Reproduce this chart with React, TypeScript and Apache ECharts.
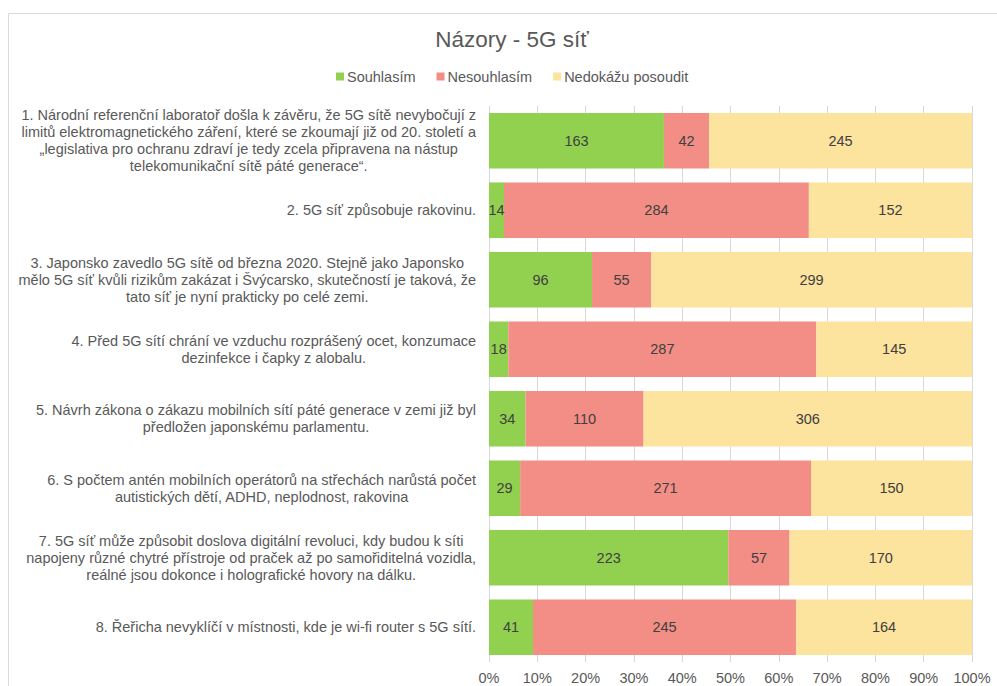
import React, { useEffect, useRef } from "react";
import * as echarts from "echarts";

const categories: string[] = [
  "1. Národní referenční laboratoř došla k závěru, že 5G sítě nevybočují z\nlimitů elektromagnetického záření, které se zkoumají již od 20. století a\n„legislativa pro ochranu zdraví je tedy zcela připravena na nástup\ntelekomunikační sítě páté generace“.",
  "2. 5G síť způsobuje rakovinu.",
  "3. Japonsko zavedlo 5G sítě od března 2020. Stejně jako Japonsko\nmělo 5G síť kvůli rizikům zakázat i Švýcarsko, skutečností je taková, že\ntato síť je nyní prakticky po celé zemi.",
  "4. Před 5G sítí chrání ve vzduchu rozprášený ocet, konzumace\ndezinfekce i čapky z alobalu.",
  "5. Návrh zákona o zákazu mobilních sítí páté generace v zemi již byl\npředložen japonskému parlamentu.",
  "6. S počtem antén mobilních operátorů na střechách narůstá počet\nautistických dětí, ADHD, neplodnost, rakovina",
  "7. 5G síť může způsobit doslova digitální revoluci, kdy budou k síti\nnapojeny různé chytré přístroje od praček až po samořiditelná vozidla,\nreálné jsou dokonce i holografické hovory na dálku.",
  "8. Řeřicha nevyklíčí v místnosti, kde je wi-fi router s 5G sítí.",
];

const souhlasim: number[] = [163, 14, 96, 18, 34, 29, 223, 41];
const nesouhlasim: number[] = [42, 284, 55, 287, 110, 271, 57, 245];
const nedokazu: number[] = [245, 152, 299, 145, 306, 150, 170, 164];

const seriesNames: string[] = ["Souhlasím", "Nesouhlasím", "Nedokážu posoudit"];
const colors: string[] = ["#92D050", "#F28E86", "#FCE39E"];
const title = "Názory - 5G síť";

const FS = 14.5;

export default function App() {
  const ref = useRef<HTMLDivElement>(null);

  useEffect(() => {
    if (!ref.current) return;
    const chart = echarts.init(ref.current, undefined, { renderer: "svg" });
    const totals = categories.map((_, i) => souhlasim[i] + nesouhlasim[i] + nedokazu[i]);
    const raw = [souhlasim, nesouhlasim, nedokazu];

    const series = raw.map((arr, si) => ({
      name: seriesNames[si],
      type: "bar",
      stack: "total",
      barCategoryGap: "20%",
      itemStyle: { color: colors[si] },
      label: {
        show: true,
        position: "inside",
        color: "#404040",
        fontSize: FS,
        formatter: (p: any) => String(arr[p.dataIndex]),
      },
      data: arr.map((v, i) => (v / totals[i]) * 100),
    }));

    chart.setOption({
      animation: false,
      textStyle: { fontFamily: "Liberation Sans, Arial, sans-serif" },
      title: {
        text: title,
        left: 507,
        textAlign: "center",
        top: 23,
        textStyle: { fontSize: 22.5, fontWeight: "normal", color: "#595959" },
      },
      legend: {
        data: seriesNames,
        top: 64,
        left: 331,
        itemWidth: 8,
        itemHeight: 8,
        itemGap: 21,
        icon: "rect",
        textStyle: { fontSize: FS, color: "#595959", padding: [0, 0, 0, -2] },
      },
      grid: { left: 489, right: 25, top: 106, bottom: 24, containLabel: false },
      xAxis: {
        type: "value",
        min: 0,
        max: 100,
        interval: 10,
        axisLine: { show: false },
        axisTick: { show: false },
        splitLine: { lineStyle: { color: "#D9D9D9" } },
        axisLabel: { formatter: "{value}%", fontSize: FS, color: "#595959", margin: 8 },
      },
      yAxis: {
        type: "category",
        inverse: true,
        data: categories,
        axisLine: { show: false },
        axisTick: { show: false },
        axisLabel: {
          interval: 0,
          margin: 13,
          formatter: (v: string) => v.split("\n").map((l) => `{c|${l}}`).join("\n"),
          rich: {
            c: { align: "center", fontSize: FS, color: "#595959", lineHeight: 17 },
          },
        },
      },
      graphic: [
        {
          type: "rect",
          shape: { x: 8.5, y: 13.5, width: 1200, height: 1000 },
          style: { fill: "none", stroke: "#D9D9D9", lineWidth: 1 },
          silent: true,
        },
      ],
      series,
    });
    return () => chart.dispose();
  }, []);

  return (
    <div
      ref={ref}
      style={{ position: "fixed", left: 0, top: 0, width: 997, height: 686, background: "#fff" }}
    />
  );
}
